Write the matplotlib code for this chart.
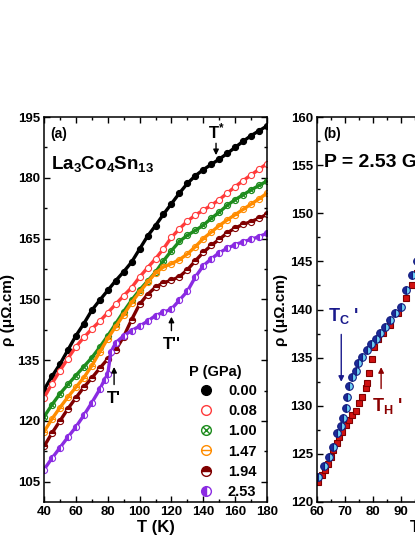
import numpy as np
import matplotlib
matplotlib.use("Agg")
import matplotlib.pyplot as plt
from matplotlib.path import Path
from matplotlib.lines import Line2D
from matplotlib.ticker import MultipleLocator

plt.rcParams["font.family"] = ["Liberation Sans", "DejaVu Sans"]
plt.rcParams["font.weight"] = "bold"
plt.rcParams["axes.labelweight"] = "bold"
plt.rcParams["mathtext.fontset"] = "custom"
plt.rcParams["mathtext.rm"] = "Liberation Sans:bold"
plt.rcParams["mathtext.bf"] = "Liberation Sans:bold"
plt.rcParams["mathtext.it"] = "Liberation Sans:bold"

# -----------------------------
# Panel (a): rho(T) for several pressures
# -----------------------------
T_a = [40, 45, 50, 55, 60, 65, 70, 75, 80, 85, 90, 95, 100, 105, 110,
       115, 120, 125, 130, 135, 140, 145, 150, 155, 160, 165, 170, 175, 180]

rho_000 = [127.7, 131.0, 134.0, 137.5, 141.0, 144.0, 147.3, 149.8, 152.2, 154.6,
           156.8, 159.2, 162.4, 165.6, 168.2, 171.0, 173.6, 176.2, 178.6, 180.5,
           182.0, 183.3, 184.6, 186.0, 187.5, 189.0, 190.4, 191.6, 192.8]
rho_008 = [125.7, 129.2, 132.4, 135.4, 138.3, 140.6, 142.7, 144.6, 146.7, 148.8,
           150.9, 152.9, 155.5, 157.8, 160.0, 162.5, 165.3, 167.4, 169.3, 170.8,
           172.0, 173.2, 174.6, 176.2, 177.8, 179.3, 180.7, 182.1, 183.5]
rho_100 = [121.0, 124.0, 126.7, 129.0, 131.2, 133.4, 135.6, 138.2, 141.0, 144.0,
           147.0, 149.8, 152.3, 154.5, 156.7, 159.5, 162.0, 164.3, 165.8, 167.0,
           168.3, 170.0, 171.5, 173.2, 174.6, 175.8, 177.0, 178.1, 179.2]
rho_147 = [117.3, 120.5, 123.3, 125.9, 128.3, 130.7, 133.6, 137.0, 140.3, 143.3,
           146.2, 149.2, 151.8, 154.2, 156.5, 158.0, 158.8, 159.8, 161.2, 163.0,
           165.0, 166.6, 168.2, 169.6, 170.9, 172.2, 173.5, 174.8, 176.2]
rho_194 = [113.7, 117.0, 120.0, 123.0, 125.7, 128.3, 130.6, 133.0, 135.3, 137.5,
           140.8, 145.0, 148.8, 151.2, 153.0, 154.1, 154.7, 155.6, 157.3, 159.5,
           161.6, 163.3, 164.8, 166.4, 167.6, 168.5, 169.2, 170.0, 171.0]

T_253 = [40, 45, 50, 55, 60, 65, 70, 75, 78, 80, 82, 85, 90, 95, 100, 105, 110,
         115, 120, 125, 130, 135, 140, 145, 150, 155, 160, 165, 170, 175, 180]
rho_253 = [108.0, 110.8, 113.4, 116.0, 118.5, 121.4, 124.5, 127.8, 130.2, 131.5,
           137.0, 139.3, 141.0, 142.3, 143.4, 144.6, 146.0, 146.8, 147.6, 149.8,
           152.0, 155.5, 158.3, 160.0, 161.5, 162.6, 163.5, 164.2, 164.8, 165.5, 166.3]

pressures = ["0.00", "0.08", "1.00", "1.47", "1.94", "2.53"]

# -----------------------------
# Panel (b): P = 2.53 GPa, cooling / heating
# -----------------------------
T_cool = [60.3, 62.4, 64.2, 65.7, 67.3, 68.7, 69.4, 70.5, 70.9, 71.5, 72.6, 74.0,
          74.7, 76.1, 77.8, 79.2, 81.0, 82.7, 84.5, 86.2, 88.0, 90.0, 92.0, 94.0, 96.0]
rho_cool = [122.6, 123.7, 124.7, 125.7, 127.2, 127.9, 128.7, 129.8, 130.9, 132.1,
            133.0, 133.6, 134.4, 135.1, 135.8, 136.4, 136.9, 137.6, 138.2, 138.9,
            139.6, 140.3, 142.0, 143.6, 145.0]

T_heat = [60.3, 61.7, 62.8, 63.8, 64.9, 65.6, 67.0, 68.0, 69.1, 70.5, 71.5, 72.6,
          74.0, 75.0, 76.1, 77.5, 77.9, 78.5, 79.6, 80.6, 82.0, 83.8, 86.2, 89.0,
          92.0, 94.0, 96.0]
rho_heat = [122.1, 122.8, 123.3, 124.0, 124.7, 125.4, 126.1, 126.8, 127.3, 128.0,
            128.5, 129.0, 129.5, 130.3, 130.9, 131.8, 132.4, 133.4, 134.9, 136.1,
            136.9, 137.6, 138.4, 139.6, 141.2, 142.5, 143.8]

# -----------------------------
# Marker shapes
# -----------------------------
circ = Path.unit_circle()
cross = Path([(-0.7, -0.7), (0.7, 0.7), (-0.7, 0.7), (0.7, -0.7)],
             [Path.MOVETO, Path.LINETO, Path.MOVETO, Path.LINETO])
hbar = Path([(-1, 0), (1, 0)], [Path.MOVETO, Path.LINETO])
circ_x = Path.make_compound_path(circ, cross)
circ_h = Path.make_compound_path(circ, hbar)

styles = [
    dict(color="black", marker="o", mfc="black", fillstyle="full"),
    dict(color="#ff3b3b", marker="o", mfc="white", fillstyle="full"),
    dict(color="#1e8c1e", marker=circ_x, mfc="none", fillstyle="full"),
    dict(color="#ff8c00", marker=circ_h, mfc="none", fillstyle="full"),
    dict(color="#800000", marker="o", mfc="#800000", fillstyle="top"),
    dict(color="#8a2be2", marker="o", mfc="#8a2be2", fillstyle="left"),
]
series = [(T_a, rho_000), (T_a, rho_008), (T_a, rho_100),
          (T_a, rho_147), (T_a, rho_194), (T_253, rho_253)]

fig = plt.figure(figsize=(4.15, 5.37), dpi=100)
ax = fig.add_axes([44 / 415, 35 / 537, 223 / 415, 385 / 537])
axb = fig.add_axes([317 / 415, 35 / 537, 223 / 415, 385 / 537])

for (tt, rr), st in zip(series, styles):
    ax.plot(tt, rr, color=st["color"], lw=2.4, marker=st["marker"], ms=4.4,
            mfc=st["mfc"], mec=st["color"], mew=0.8, fillstyle=st["fillstyle"],
            markerfacecoloralt="white")

ax.set_xlim(40, 180)
ax.set_ylim(100, 195)
ax.xaxis.set_major_locator(MultipleLocator(20))
ax.xaxis.set_minor_locator(MultipleLocator(10))
ax.yaxis.set_major_locator(MultipleLocator(15))
ax.yaxis.set_minor_locator(MultipleLocator(7.5))
ax.set_yticks(np.arange(105, 196, 15))
ax.set_xlabel("T (K)", fontsize=12, labelpad=1)
ax.set_ylabel("ρ (μΩ.cm)", fontsize=11, labelpad=2)

ax.text(0.03, 0.975, "(a)", transform=ax.transAxes, fontsize=10, va="top")
ax.text(0.03, 0.905, r"$\mathbf{La_3Co_4Sn_{13}}$", transform=ax.transAxes,
        fontsize=13.5, va="top")

ax.annotate("", xy=(148, 184.9), xytext=(148, 189.2),
            arrowprops=dict(arrowstyle="-|>", color="black", lw=1, mutation_scale=8))
ax.text(148, 191.4, r"T$^{*}$", fontsize=12, ha="center", va="center")
ax.annotate("", xy=(120, 146.4), xytext=(120, 141.6),
            arrowprops=dict(arrowstyle="-|>", color="black", lw=1, mutation_scale=8))
ax.text(120, 138.8, "T''", fontsize=12, ha="center", va="center")
ax.annotate("", xy=(84, 134.0), xytext=(84, 128.3),
            arrowprops=dict(arrowstyle="-|>", color="black", lw=1, mutation_scale=8))
ax.text(84, 125.6, "T'", fontsize=12, ha="center", va="center")

handles = [Line2D([], [], ls="none", marker=st["marker"], ms=7, color=st["color"],
                  mfc=st["mfc"], mec=st["color"], mew=1, fillstyle=st["fillstyle"],
                  markerfacecoloralt="white") for st in styles]
ax.legend(handles, pressures, loc="upper left", bbox_to_anchor=(0.694, 0.306),
          frameon=False, borderpad=0, borderaxespad=0, handlelength=1.0,
          handletextpad=1.0, labelspacing=0.42, fontsize=10.5)
ax.text(0.652, 0.337, "P (GPa)", transform=ax.transAxes, fontsize=10.5, va="center")

# panel (b)
axb.plot(T_heat, rho_heat, ls="none", marker="s", ms=5, color="#d01010",
         mec="#800000", mew=0.8)
axb.plot(T_cool, rho_cool, ls="none", marker="o", ms=5.5, mfc="#1c2a9a",
         mec="#141e80", mew=0.8, fillstyle="left", markerfacecoloralt="#6fd3f5")

axb.set_xlim(60, 140)
axb.set_ylim(120, 160)
axb.xaxis.set_major_locator(MultipleLocator(10))
axb.xaxis.set_minor_locator(MultipleLocator(5))
axb.yaxis.set_major_locator(MultipleLocator(5))
axb.yaxis.set_minor_locator(MultipleLocator(2.5))
axb.set_xlabel("T (K)", fontsize=12, labelpad=1)
axb.set_ylabel("ρ (μΩ.cm)", fontsize=11, labelpad=2)
axb.text(0.03, 0.975, "(b)", transform=axb.transAxes, fontsize=10, va="top")
axb.text(0.03, 0.905, "P = 2.53 GPa", transform=axb.transAxes, fontsize=14, va="top")

axb.annotate("", xy=(68.7, 132.2), xytext=(68.7, 137.7),
             arrowprops=dict(arrowstyle="-|>", color="#1a1a8c", lw=1, mutation_scale=8))
axb.text(69.6, 139.3, r"T$_C$ '", fontsize=13, ha="center", va="center", color="#1a1a8c")
axb.annotate("", xy=(83, 134.3), xytext=(83, 131.5),
             arrowprops=dict(arrowstyle="-|>", color="#8b0000", lw=1, mutation_scale=8))
axb.text(85.2, 130.0, r"T$_H$ '", fontsize=13, ha="center", va="center", color="#8b0000")

for a in (ax, axb):
    a.tick_params(which="both", direction="in", top=True, right=True,
                  width=1, labelsize=9.5, pad=3)
    a.tick_params(which="major", length=4.5)
    a.tick_params(which="minor", length=2.5)
    for s in a.spines.values():
        s.set_linewidth(1.1)

fig.savefig("out.png", dpi=100)
